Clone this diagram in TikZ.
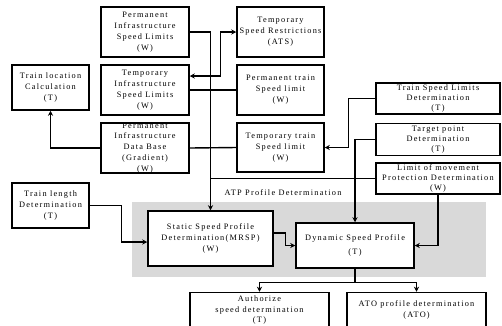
\documentclass[tikz,border=0pt]{standalone}
\usepackage{fontspec}
\setmainfont[LetterSpace=15]{Liberation Serif}
\usetikzlibrary{arrows.meta,calc}
\begin{document}
\begin{tikzpicture}[x=1pt,y=-1pt,
  box/.style={draw=black,line width=1.5pt,fill=white,align=center,inner sep=0pt,
    font=\fontsize{8.3}{10.9}\selectfont},
  flat/.style={font=\fontsize{8.3}{10.2}\selectfont},
  conn/.style={line width=1.4pt},
  arr/.style={conn,-{Stealth[length=5pt,width=5pt]}},
  lbl/.style={font=\fontsize{8.3}{10.9}\selectfont}]
\useasboundingbox (0,0) rectangle (502,325);
\fill[black!15] (132,202) rectangle (486,277);
\node[lbl] (atp) at (283,193) {ATP Profile Determination};
% left / middle column
\node[box,minimum width=88,minimum height=50] (pisl) at (145,32) {Permanent\\Infrastructure\\Speed Limits\\(W)};
\node[box,minimum width=88,minimum height=50] (tisl) at (145,90) {Temporary\\Infrastructure\\Speed Limits\\(W)};
\node[box,minimum width=77,minimum height=45] (tlc) at (50.5,87.5) {Train location\\Calculation\\(T)};
\node[box,minimum width=88,minimum height=50,inner ysep=-2pt] (pidb) at (145,148) {Permanent\\Infrastructure\\Data Base\\(Gradient)\\(W)};
\node[box,minimum width=77,minimum height=45] (tld) at (50.5,205.5) {Train length\\Determination\\(T)};
% right column
\node[box,minimum width=87,minimum height=50] (tsr) at (280.5,32) {Temporary\\Speed Restrictions\\(ATS)};
\node[box,minimum width=87,minimum height=50] (ptsl) at (280.5,90) {Permanent train\\Speed limit\\(W)};
\node[box,minimum width=87,minimum height=49] (ttsl) at (280.5,147.5) {Temporary train\\Speed limit\\(W)};
\node[box,flat,minimum width=124,minimum height=31,inner ysep=-1pt] (tsld) at (438,98.5) {Train Speed Limits\\Determination\\(T)};
\node[box,flat,minimum width=124,minimum height=32,inner ysep=-1pt] (tpd) at (438,139.5) {Target point\\Determination\\(T)};
\node[box,flat,minimum width=124,minimum height=31,inner ysep=-1pt] (lmpd) at (438,178.5) {Limit of movement\\Protection Determination\\(W)};
% profiles
\node[box,minimum width=125,minimum height=55] (ssp) at (210.5,238.5) {Static Speed Profile\\Determination(MRSP)\\(W)};
\node[box,minimum width=118,minimum height=45] (dsp) at (355,245.5) {Dynamic Speed Profile\\[2.5pt](T)};
\node[box,minimum width=139,minimum height=35] (asd) at (259.5,310) {Authorize\\speed determination\\(T)};
\node[box,minimum width=139,minimum height=35] (ato) at (416.5,310) {ATO profile determination\\(ATO)};
% connectors
\coordinate (bus) at (ssp.north |- pisl.east);
\draw[arr,line width=1.7pt] (pisl.east) -- (bus) -- (ssp.north);
\draw[conn,{Stealth[length=5pt,width=5pt]}-{Stealth[length=5pt,width=5pt]}] ([yshift=14pt]tisl.east) -- ++(31,0) |- (tsr.west);
\draw[arr] (pidb.west) -| (tlc.south);
\draw[conn] (tisl.east) -- (ptsl.west);
\draw[conn] (pidb.east) -- (ttsl.west);
\draw[arr] (tsld.west) -- ++(-27,0) |- (ttsl.east);
\draw[arr] (tpd.west) -| (dsp.north);
\draw[arr] (lmpd.south) |- (dsp.east);
\draw[conn] (lmpd.west) -- (lmpd.west -| bus);
\draw[arr] (tld.east) -- ++(32,0) |- ([yshift=-3.5pt]ssp.west);
\draw[arr] ([yshift=5.5pt]ssp.east) -- ++(12,0) |- (dsp.west);
\draw[conn] (dsp.south) -- ++(0,14) coordinate (split);
\draw[arr] (split) -| (asd.north);
\draw[arr] (split) -| (ato.north);
\end{tikzpicture}
\end{document}
